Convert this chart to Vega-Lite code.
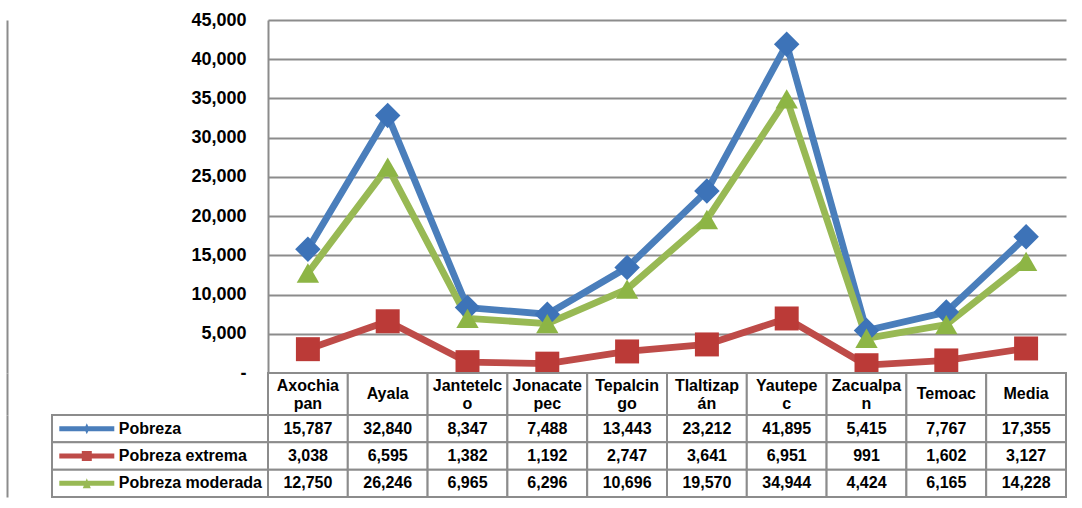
{
  "$schema": "https://vega.github.io/schema/vega-lite/v6.json",
  "usermeta": {"embedOptions": {"actions": false}},
  "background": "white",
  "padding": {"left": 7, "top": 11, "right": 0, "bottom": 0},
  "autosize": {"type": "pad"},
  "config": {"view": {"stroke": null}, "font": "Liberation Sans"},
  "bounds": "flush",
  "spacing": 0,
  "columns": 2,
  "datasets": {
    "datos": [
      {"municipio": "Axochiapan", "serie": "Pobreza", "valor": 15787},
      {"municipio": "Axochiapan", "serie": "Pobreza extrema", "valor": 3038},
      {"municipio": "Axochiapan", "serie": "Pobreza moderada", "valor": 12750},
      {"municipio": "Ayala", "serie": "Pobreza", "valor": 32840},
      {"municipio": "Ayala", "serie": "Pobreza extrema", "valor": 6595},
      {"municipio": "Ayala", "serie": "Pobreza moderada", "valor": 26246},
      {"municipio": "Jantetelco", "serie": "Pobreza", "valor": 8347},
      {"municipio": "Jantetelco", "serie": "Pobreza extrema", "valor": 1382},
      {"municipio": "Jantetelco", "serie": "Pobreza moderada", "valor": 6965},
      {"municipio": "Jonacatepec", "serie": "Pobreza", "valor": 7488},
      {"municipio": "Jonacatepec", "serie": "Pobreza extrema", "valor": 1192},
      {"municipio": "Jonacatepec", "serie": "Pobreza moderada", "valor": 6296},
      {"municipio": "Tepalcingo", "serie": "Pobreza", "valor": 13443},
      {"municipio": "Tepalcingo", "serie": "Pobreza extrema", "valor": 2747},
      {"municipio": "Tepalcingo", "serie": "Pobreza moderada", "valor": 10696},
      {"municipio": "Tlaltizapán", "serie": "Pobreza", "valor": 23212},
      {"municipio": "Tlaltizapán", "serie": "Pobreza extrema", "valor": 3641},
      {"municipio": "Tlaltizapán", "serie": "Pobreza moderada", "valor": 19570},
      {"municipio": "Yautepec", "serie": "Pobreza", "valor": 41895},
      {"municipio": "Yautepec", "serie": "Pobreza extrema", "valor": 6951},
      {"municipio": "Yautepec", "serie": "Pobreza moderada", "valor": 34944},
      {"municipio": "Zacualpan", "serie": "Pobreza", "valor": 5415},
      {"municipio": "Zacualpan", "serie": "Pobreza extrema", "valor": 991},
      {"municipio": "Zacualpan", "serie": "Pobreza moderada", "valor": 4424},
      {"municipio": "Temoac", "serie": "Pobreza", "valor": 7767},
      {"municipio": "Temoac", "serie": "Pobreza extrema", "valor": 1602},
      {"municipio": "Temoac", "serie": "Pobreza moderada", "valor": 6165},
      {"municipio": "Media", "serie": "Pobreza", "valor": 17355},
      {"municipio": "Media", "serie": "Pobreza extrema", "valor": 3127},
      {"municipio": "Media", "serie": "Pobreza moderada", "valor": 14228}
    ],
    "municipios": [
      {"municipio": "Axochiapan", "etiqueta": "Axochia\npan"},
      {"municipio": "Ayala", "etiqueta": "Ayala"},
      {"municipio": "Jantetelco", "etiqueta": "Jantetelc\no"},
      {"municipio": "Jonacatepec", "etiqueta": "Jonacate\npec"},
      {"municipio": "Tepalcingo", "etiqueta": "Tepalcin\ngo"},
      {"municipio": "Tlaltizapán", "etiqueta": "Tlaltizap\nán"},
      {"municipio": "Yautepec", "etiqueta": "Yautepe\nc"},
      {"municipio": "Zacualpan", "etiqueta": "Zacualpa\nn"},
      {"municipio": "Temoac", "etiqueta": "Temoac"},
      {"municipio": "Media", "etiqueta": "Media"}
    ]
  },
  "resolve": {
    "scale": {"color": "independent", "shape": "independent", "fill": "independent", "stroke": "independent", "size": "independent"},
    "legend": {"color": "independent", "shape": "independent"}
  },
  "concat": [
    {
      "width": 216, "height": 353,
      "data": {"values": []},
      "mark": "point",
      "encoding": {
        "y": {"datum": 0, "type": "quantitative", "scale": {"domain": [0, 1]},
          "axis": {"offset": 45, "labels": false, "ticks": false, "grid": false, "title": null, "domainColor": "#8c8c8c", "domainWidth": 2}}
      }
    },
    {
      "width": 798, "height": 353,
      "data": {"name": "datos"},
      "encoding": {
        "x": {"field": "municipio", "type": "nominal", "sort": null, "scale": {"type": "point", "padding": 0.5}, "axis": null},
        "y": {
          "field": "valor", "type": "quantitative",
          "scale": {"domain": [0, 45000], "nice": false},
          "axis": {
            "title": null,
            "values": [0, 5000, 10000, 15000, 20000, 25000, 30000, 35000, 40000, 45000],
            "labelExpr": "datum.value == 0 ? '-' : format(datum.value, ',')",
            "labelFont": "Liberation Sans", "labelFontWeight": "bold", "labelFontSize": 18, "labelColor": "#000000",
            "labelPadding": 22, "ticks": false,
            "domainColor": "#8c8c8c", "domainWidth": 2,
            "grid": true, "gridColor": "#8c8c8c", "gridWidth": 2,
            "encode": {"labels": {"enter": {"dx": {"signal": "datum.value == 0 ? -10 : 0"}}, "update": {"dx": {"signal": "datum.value == 0 ? -10 : 0"}}}}
          }
        }
      },
      "layer": [
        {
          "mark": {"type": "line", "strokeWidth": 6.8, "strokeJoin": "round"},
          "encoding": {
            "stroke": {"field": "serie", "type": "nominal", "sort": null,
              "scale": {"domain": ["Pobreza", "Pobreza extrema", "Pobreza moderada"], "range": ["#4a7ebb", "#be4b48", "#98b954"]},
              "legend": null}
          }
        },
        {
          "mark": {"type": "point", "filled": true, "opacity": 1},
          "encoding": {
            "shape": {"field": "serie", "type": "nominal", "sort": null,
              "scale": {"domain": ["Pobreza", "Pobreza extrema", "Pobreza moderada"], "range": ["diamond", "square", "triangle-up"]},
              "legend": null},
            "fill": {"field": "serie", "type": "nominal", "sort": null,
              "scale": {"domain": ["Pobreza", "Pobreza extrema", "Pobreza moderada"], "range": ["#3d73b8", "#bb3a37", "#8db545"]},
              "legend": null},
            "size": {"field": "serie", "type": "nominal", "sort": null,
              "scale": {"domain": ["Pobreza", "Pobreza extrema", "Pobreza moderada"], "range": [650, 500, 620]},
              "legend": null}
          }
        }
      ]
    },
    {
      "width": 216, "height": 42,
      "data": {"values": []},
      "mark": "point",
      "encoding": {
        "y": {"datum": 0, "type": "quantitative", "scale": {"domain": [0, 1]},
          "axis": {"offset": 45, "labels": false, "ticks": false, "grid": false, "title": null, "domainColor": "#8c8c8c", "domainWidth": 2}}
      }
    },
    {
      "width": 798, "height": 42,
      "data": {"name": "municipios"},
      "encoding": {
        "x": {"field": "municipio", "type": "nominal", "sort": null, "scale": {"paddingInner": 0, "paddingOuter": 0}, "axis": null}
      },
      "layer": [
        {"mark": {"type": "rect", "fill": "white", "stroke": "#8c8c8c", "strokeWidth": 2}},
        {
          "transform": [{"filter": "indexof(datum.etiqueta, '\\n') < 0"}],
          "mark": {"type": "text", "font": "Liberation Sans", "fontWeight": "bold", "fontSize": 16, "baseline": "middle", "color": "#000000"},
          "encoding": {"text": {"field": "etiqueta"}}
        },
        {
          "transform": [{"filter": "indexof(datum.etiqueta, '\\n') >= 0"}],
          "mark": {"type": "text", "font": "Liberation Sans", "fontWeight": "bold", "fontSize": 16, "lineBreak": "\n", "lineHeight": 18, "baseline": "middle", "dy": -8, "color": "#000000"},
          "encoding": {"text": {"field": "etiqueta"}}
        }
      ]
    },
    {
      "width": 216, "height": 82,
      "data": {"name": "datos"},
      "transform": [{"filter": "datum.municipio == 'Media'"}],
      "encoding": {
        "y": {"field": "serie", "type": "nominal", "sort": null, "scale": {"paddingInner": 0, "paddingOuter": 0},
          "axis": {"offset": 45, "labels": false, "ticks": false, "grid": false, "title": null, "domainColor": "#8c8c8c", "domainWidth": 2}}
      },
      "layer": [
        {"mark": {"type": "rect", "fill": "white", "stroke": "#8c8c8c", "strokeWidth": 2}},
        {
          "mark": {"type": "point", "filled": true, "opacity": 0},
          "encoding": {
            "color": {"field": "serie", "type": "nominal", "sort": null,
              "scale": {"domain": ["Pobreza", "Pobreza extrema", "Pobreza moderada"], "range": ["#4a7ebb", "#be4b48", "#98b954"]},
              "legend": {
                "orient": "none", "legendX": 26.8, "legendY": 5.7, "title": null, "padding": 0,
                "labelFont": "Liberation Sans", "labelFontWeight": "bold", "labelFontSize": 16, "labelColor": "#000000",
                "symbolSize": 100, "symbolStrokeWidth": 0, "symbolOpacity": 1, "labelOffset": 24, "rowPadding": 11.3
              }},
            "shape": {"field": "serie", "type": "nominal", "sort": null,
              "scale": {"domain": ["Pobreza", "Pobreza extrema", "Pobreza moderada"],
                "range": [
                  "M-5.5,-0.5H5.5V0.5H-5.5ZM0,-1.1L0.5,0L0,1.1L-0.5,0Z",
                  "M-5.5,-0.5H5.5V0.5H-5.5ZM-1,-1H1V1H-1Z",
                  "M-5.5,-0.5H5.5V0.5H-5.5ZM0,-1L0.8,1L-0.8,1Z"
                ]},
              "legend": {
                "orient": "none", "legendX": 26.8, "legendY": 5.7, "title": null, "padding": 0,
                "labelFont": "Liberation Sans", "labelFontWeight": "bold", "labelFontSize": 16, "labelColor": "#000000",
                "symbolSize": 100, "symbolStrokeWidth": 0, "symbolOpacity": 1, "labelOffset": 24, "rowPadding": 11.3
              }}
          }
        }
      ]
    },
    {
      "width": 798, "height": 82,
      "data": {"name": "datos"},
      "encoding": {
        "x": {"field": "municipio", "type": "nominal", "sort": null, "scale": {"paddingInner": 0, "paddingOuter": 0}, "axis": null},
        "y": {"field": "serie", "type": "nominal", "sort": null, "scale": {"paddingInner": 0, "paddingOuter": 0}, "axis": null}
      },
      "layer": [
        {"mark": {"type": "rect", "fill": "white", "stroke": "#8c8c8c", "strokeWidth": 2}},
        {
          "mark": {"type": "text", "font": "Liberation Sans", "fontWeight": "bold", "fontSize": 16, "baseline": "middle", "color": "#000000"},
          "encoding": {"text": {"field": "valor", "type": "quantitative", "format": ","}}
        }
      ]
    }
  ]
}
